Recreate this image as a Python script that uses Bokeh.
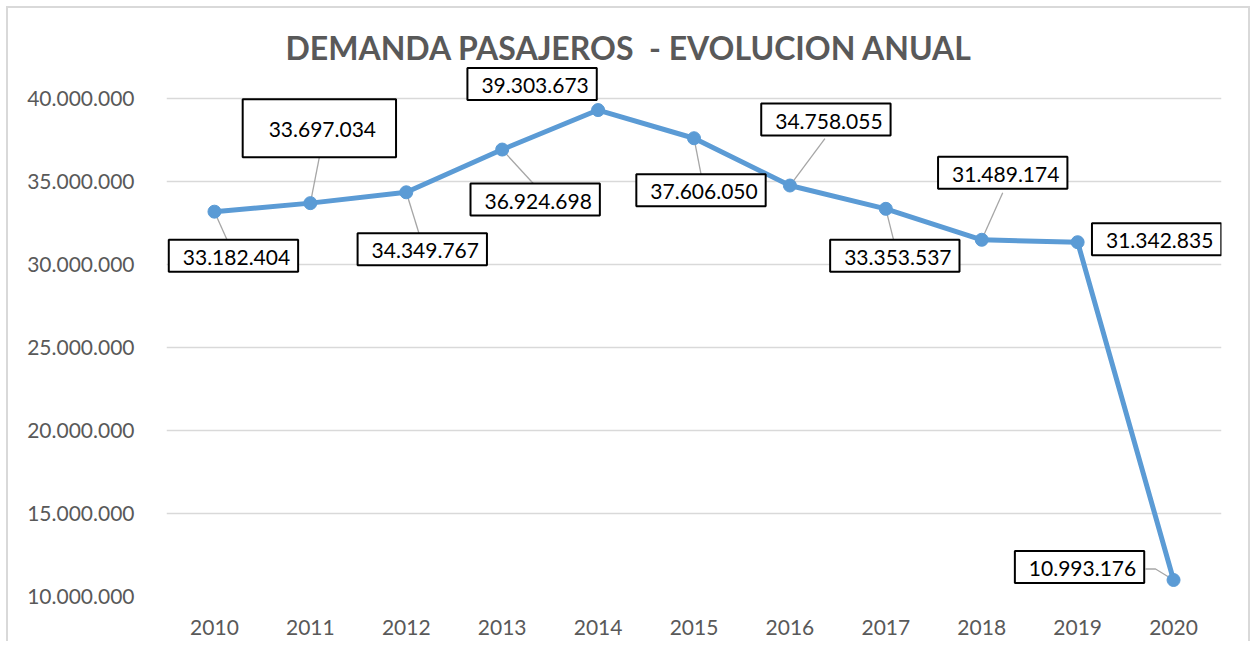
from bokeh.plotting import figure
from bokeh.models import FixedTicker, Range1d, ColumnDataSource, Title
from bokeh.embed import file_html
from bokeh.resources import INLINE
from bokeh.core.properties import value

# ---------------- data ----------------
years = ["2010", "2011", "2012", "2013", "2014", "2015", "2016", "2017", "2018", "2019", "2020"]
passengers = [33182404, 33697034, 34349767, 36924698, 39303673, 37606050,
              34758055, 33353537, 31489174, 31342835, 10993176]
y_ticks = [10000000, 15000000, 20000000, 25000000, 30000000, 35000000, 40000000]
y_tick_labels = ["10.000.000", "15.000.000", "20.000.000", "25.000.000",
                 "30.000.000", "35.000.000", "40.000.000"]
title_text = "DEMANDA PASAJEROS\u00a0 - EVOLUCION ANUAL"

# ---------------- layout / style ----------------
FRAME_W, FRAME_H = 1055, 530
PX_PER_STEP = 83.0          # pixels per 5.000.000
Y_START = 10000000
Y_END = Y_START + FRAME_H * 5000000 / PX_PER_STEP
X_START, X_END = -0.5, len(years) - 0.5
PX_X = FRAME_W / (X_END - X_START)
PX_Y = PX_PER_STEP / 5000000

# label box-centre offsets from each point (screen pixels, +y = down)
label_dx = [19, 9, 16, 33, -66, 7, 36, 9, 21, 79, -94]
label_dy = [44, -75, 57, 50, -26, 52, -66, 47, -67, -3, -13]
# leader lines (pixel polylines relative to the point), None = no leader
leaders = [[(0, 0), (13, 29)], [(0, 0), (9, -46)], [(0, 0), (13, 42)],
           [(0, 0), (32, 35)], None, [(0, 0), (7, 36)], [(0, 0), (35, -47)],
           [(0, 0), (8, 32)], [(0, 0), (21, -47)], None,
           [(0, 0), (-18, -11), (-28, -11)]]

LINE_COLOR = "#5B9BD5"
GRAY_TXT = "#595959"
FONT = "Lato"

xs_idx = list(range(len(years)))
labels = [f"{v:,}".replace(",", ".") for v in passengers]

p = figure(frame_width=FRAME_W, frame_height=FRAME_H,
           x_range=Range1d(X_START, X_END), y_range=Range1d(Y_START, Y_END),
           output_backend="svg", toolbar_location=None,
           min_border_left=158, min_border_right=27, min_border_top=58, min_border_bottom=45,
           background_fill_color="white", border_fill_color="white",
           styles={"border-left": "2px solid #d9d9d9", "border-right": "2px solid #d9d9d9",
                   "border-top": "2px solid #d9d9d9", "margin-left": "6px", "margin-top": "6px"})
p.outline_line_color = None

p.title = Title(text=title_text, align="left", offset=119, standoff=0,
                text_font=FONT, text_font_size="32px", text_font_style="bold",
                text_color=GRAY_TXT)

# axes
p.xaxis.ticker = FixedTicker(ticks=xs_idx)
p.xaxis.major_label_overrides = {i: y for i, y in zip(xs_idx, years)}
p.yaxis.ticker = FixedTicker(ticks=y_ticks)
p.yaxis.major_label_overrides = {t: l for t, l in zip(y_ticks, y_tick_labels)}
for ax in (p.xaxis, p.yaxis):
    ax.axis_line_color = None
    ax.major_tick_line_color = None
    ax.minor_tick_line_color = None
    ax.major_label_text_font = FONT
    ax.major_label_text_font_size = "21px"
    ax.major_label_text_color = GRAY_TXT
p.yaxis.major_label_standoff = 26
p.xaxis.major_label_standoff = 17
p.xgrid.grid_line_color = None
p.ygrid.grid_line_color = "#d9d9d9"
p.ygrid.grid_line_width = 1.5

# leader lines
lx, ly = [], []
for i, (v, ld) in enumerate(zip(passengers, leaders)):
    if ld is None:
        continue
    lx.append([i + dx / PX_X for dx, dy in ld])
    ly.append([v - dy / PX_Y for dx, dy in ld])
p.multi_line(xs=lx, ys=ly, line_color="#a6a6a6", line_width=1.3)

# series
src = ColumnDataSource(dict(x=xs_idx, y=passengers, label=labels, dx=label_dx, dy=label_dy))
p.line("x", "y", source=src, line_color=LINE_COLOR, line_width=5)
p.scatter("x", "y", source=src, size=13, fill_color=LINE_COLOR, line_color=LINE_COLOR)

# data labels
big = [1]
normal = [i for i in xs_idx if i not in big]
def sub(idx):
    return ColumnDataSource({k: [src.data[k][i] for i in idx] for k in src.data})
common = dict(x="x", y="y", text="label", x_offset="dx", y_offset="dy",
              text_font=value(FONT), text_font_size="21px", text_color="black",
              text_align="center", text_baseline="middle",
              background_fill_color="white", border_line_color="black", border_line_width=2)
p.text(source=sub(normal), padding=dict(left=14, right=8, top=10, bottom=7), **common)
p.text(source=sub(big), padding=dict(left=26, right=20, top=23, bottom=20), **common)

open("out.html", "w").write(file_html(p, INLINE))
